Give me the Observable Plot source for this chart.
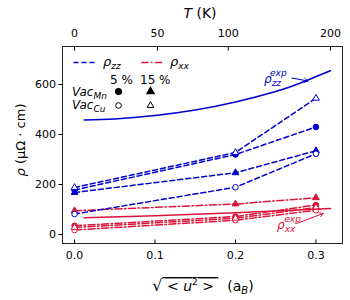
<!DOCTYPE html>
<html><head><meta charset="utf-8">
<script src="https://cdn.jsdelivr.net/npm/d3@7"></script>
<script src="https://cdn.jsdelivr.net/npm/@observablehq/plot@0.6"></script>
<style>body{margin:0;background:#fff}</style>
</head><body><div id="chart"></div>
<script>
const uPts = [0, 0.2, 0.3];
const zzMn5 = [178, 320, 430];
const zzMn15 = [168, 247, 335];
const zzCu5 = [82, 189, 323];
const zzCu15 = [188, 328, 545];
const xxMn5 = [35, 72, 118];
const xxMn15 = [95, 122, 147];
const xxCu5 = [18, 57, 97];
const xxCu15 = [28, 65, 108];
const zzExpU = [0.012, 0.05, 0.1, 0.15, 0.2, 0.25, 0.28, 0.318];
const zzExpV = [458, 462, 476, 498, 530, 572, 605, 655];
const xxExpU = [0.012, 0.1, 0.2, 0.318];
const xxExpV = [67, 75, 87, 104];
const xTicks = [0, 0.1, 0.2, 0.3];
const yTicks = [0, 200, 400, 600];
const tTickPos = [0, 0.103, 0.191, 0.318];
const tTickLabels = ["0", "50", "100", "200"];

const BLUE = "#0000cd", RED = "crimson";

const seriesDefs = [
  {name: "zzMn5", vals: zzMn5, comp: "zz", sym: "circle", open: false},
  {name: "zzMn15", vals: zzMn15, comp: "zz", sym: "triangle", open: false},
  {name: "zzCu5", vals: zzCu5, comp: "zz", sym: "circle", open: true},
  {name: "zzCu15", vals: zzCu15, comp: "zz", sym: "triangle", open: true},
  {name: "xxMn5", vals: xxMn5, comp: "xx", sym: "circle", open: false},
  {name: "xxMn15", vals: xxMn15, comp: "xx", sym: "triangle", open: false},
  {name: "xxCu5", vals: xxCu5, comp: "xx", sym: "circle", open: true},
  {name: "xxCu15", vals: xxCu15, comp: "xx", sym: "triangle", open: true}
];
const rows = seriesDefs.flatMap(s => s.vals.map((v, i) => ({series: s.name, comp: s.comp, sym: s.sym, open: s.open, u: uPts[i], v})));
const zzExp = zzExpU.map((u, i) => ({u, v: zzExpV[i]}));
const xxExp = xxExpU.map((u, i) => ({u, v: xxExpV[i]}));

const lineSym = {draw(ctx) { ctx.moveTo(-11, 0); ctx.lineTo(11, 0); }};
const TR = 2.5, CR = 2.8;

const marks = [];
for (const comp of ["xx", "zz"]) {
  const col = comp === "zz" ? BLUE : RED;
  const dash = comp === "zz" ? "5,3" : "7,2.5,1.5,2.5";
  for (const s of seriesDefs.filter(d => d.comp === comp)) {
    const d = rows.filter(r => r.series === s.name);
    marks.push(Plot.line(d, {x: "u", y: "v", stroke: col, strokeWidth: 1.5, strokeDasharray: dash}));
    marks.push(Plot.dot(d, {x: "u", y: "v", symbol: s.sym, r: s.sym === "triangle" ? TR : CR, stroke: col, strokeWidth: 1, fill: s.open ? "white" : col}));
  }
}
marks.push(Plot.line(zzExp, {x: "u", y: "v", curve: "natural", stroke: BLUE, strokeWidth: 1.6}));
marks.push(Plot.line(xxExp, {x: "u", y: "v", curve: "natural", stroke: RED, strokeWidth: 1.6}));
// annotation arrows
marks.push(Plot.arrow([{x1: 0.27, y1: 626, x2: 0.29, y2: 614}], {x1: "x1", y1: "y1", x2: "x2", y2: "y2", stroke: BLUE, strokeWidth: 1, headLength: 6, bend: false}));
marks.push(Plot.arrow([{x1: 0.276, y1: 44, x2: 0.309, y2: 84}], {x1: "x1", y1: "y1", x2: "x2", y2: "y2", stroke: RED, strokeWidth: 1, headLength: 6, bend: false}));
// legend glyphs
marks.push(Plot.dot([0], {frameAnchor: "top-left", dx: 22, dy: 16, symbol: lineSym, r: 1, stroke: BLUE, strokeWidth: 1.5, strokeDasharray: "5,3", fill: "none"}));
marks.push(Plot.dot([0], {frameAnchor: "top-left", dx: 90, dy: 16, symbol: lineSym, r: 1, stroke: RED, strokeWidth: 1.5, strokeDasharray: "7,2.5,1.5,2.5", fill: "none"}));
marks.push(Plot.dot([0], {frameAnchor: "top-left", dx: 56, dy: 45, symbol: "circle", r: CR, fill: "black", stroke: "black"}));
marks.push(Plot.dot([0], {frameAnchor: "top-left", dx: 88, dy: 45, symbol: "triangle", r: TR, fill: "black", stroke: "black"}));
marks.push(Plot.dot([0], {frameAnchor: "top-left", dx: 56, dy: 59, symbol: "circle", r: CR, fill: "white", stroke: "black", strokeWidth: 1}));
marks.push(Plot.dot([0], {frameAnchor: "top-left", dx: 88, dy: 59, symbol: "triangle", r: TR, fill: "white", stroke: "black", strokeWidth: 1}));
// axes
marks.push(Plot.axisY({ticks: yTicks, tickSize: 3.5, tickPadding: 3, label: null, fontSize: 11}));
marks.push(Plot.axisX({anchor: "bottom", ticks: xTicks, tickFormat: d3.format(".1f"), tickSize: -3.5, tickPadding: 11, label: null, fontSize: 11}));
marks.push(Plot.axisX({anchor: "top", ticks: tTickPos, tickFormat: (d, i) => tTickLabels[i], tickSize: -3.5, tickPadding: 13, label: null, fontSize: 11}));
marks.push(Plot.frame({stroke: "#222", strokeWidth: 1}));

const plot = Plot.plot({
  width: 350, height: 300,
  marginLeft: 62, marginRight: 8, marginTop: 46, marginBottom: 57,
  x: {domain: [-0.015, 0.333]},
  y: {domain: [-36, 752]},
  style: {fontFamily: "DejaVu Sans", fontSize: "11px", color: "#000", background: "white"},
  marks
});
document.getElementById("chart").appendChild(plot);

// rich text labels
const svg = d3.select(plot);
const g = svg.append("g").attr("font-family", "DejaVu Sans").attr("text-anchor", "start");
function rich(x, y, parts, opts = {}) {
  const t = g.append("text").attr("x", x).attr("y", y).attr("fill", opts.fill || "black").attr("font-size", opts.size || 13)
    .attr("text-anchor", opts.anchor || "start");
  if (opts.rotate) t.attr("transform", `rotate(-90 ${x} ${y})`);
  for (const p of parts) {
    const s = t.append("tspan").text(p.t);
    if (p.italic) s.attr("font-style", "italic");
    if (p.size) s.attr("font-size", p.size);
    if (p.dy) s.attr("dy", p.dy);
    if (p.dx) s.attr("dx", p.dx);
    if (p.over) s.attr("text-decoration", "overline");
  }
  return t;
}
// Top axis title
rich(200, 18, [{t: "T", italic: true}, {t: " (K)"}], {anchor: "middle", size: 14});
// Y axis title
rich(25, 140, [{t: "ρ", italic: true}, {t: " (μΩ · cm)"}], {anchor: "middle", size: 13, rotate: true});
// X axis title
rich(203, 291, [{t: "√", size: 16}, {t: " < ", over: true}, {t: "u", italic: true, over: true}, {t: "2", size: 9, dy: -6, over: true}, {t: " > ", dy: 6, over: true}, {t: "  (a"}, {t: "B", italic: true, size: 10, dy: 3}, {t: ")", dy: -3}], {anchor: "middle", size: 14});
// Legend texts
rich(103, 66, [{t: "ρ", italic: true}, {t: "zz", italic: true, size: 9, dy: 3}], {size: 13});
rich(170, 66, [{t: "ρ", italic: true}, {t: "xx", italic: true, size: 9, dy: 3}], {size: 13});
rich(110, 84, [{t: "5 %"}], {size: 12});
rich(140, 84, [{t: "15 %"}], {size: 12});
rich(72, 96, [{t: "Vac", italic: true}, {t: "Mn", italic: true, size: 9, dy: 3}], {size: 12});
rich(72, 109, [{t: "Vac", italic: true}, {t: "Cu", italic: true, size: 9, dy: 3}], {size: 12});
// Annotation labels
rich(264, 83, [{t: "ρ", italic: true}, {t: "zz", italic: true, size: 9, dy: 3}, {t: "exp", italic: true, size: 9, dx: -11, dy: -10}], {size: 12, fill: BLUE});
rich(277, 229, [{t: "ρ", italic: true}, {t: "xx", italic: true, size: 9, dy: 3}, {t: "exp", italic: true, size: 9, dx: -11, dy: -10}], {size: 12, fill: RED});
</script></body></html>
